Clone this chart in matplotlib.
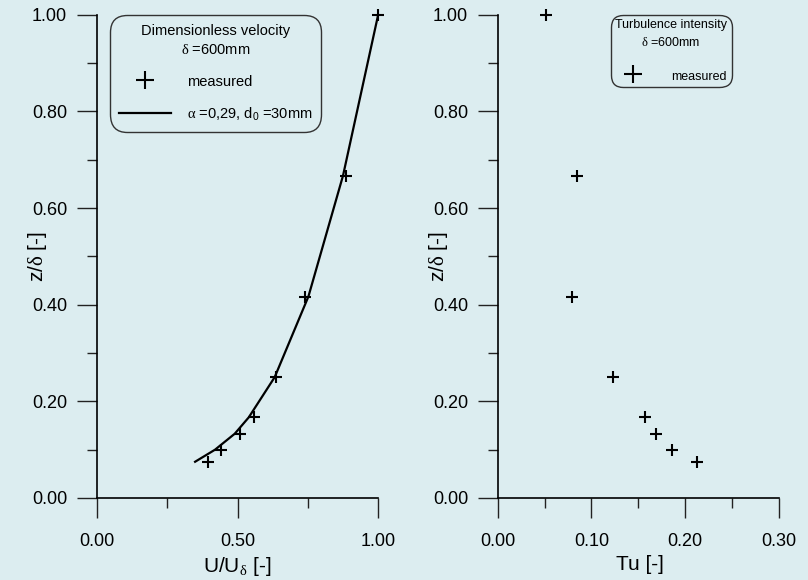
import matplotlib
matplotlib.use("Agg")
import matplotlib.pyplot as plt
from matplotlib.ticker import MultipleLocator, FormatStrFormatter

plt.rcParams['font.family'] = ['Liberation Sans', 'DejaVu Sans']
plt.rcParams['mathtext.fontset'] = 'custom'
plt.rcParams['mathtext.rm'] = 'Liberation Serif'
plt.rcParams['mathtext.it'] = 'Liberation Serif:italic'
plt.rcParams['mathtext.sf'] = 'Liberation Sans'

bg = '#dcedf0'

# measured points (z/delta)
z_meas = [0.075, 0.10, 0.133, 0.167, 0.25, 0.417, 0.667, 1.00]
u_meas = [0.394, 0.441, 0.509, 0.559, 0.637, 0.740, 0.885, 1.00]
tu_meas = [0.213, 0.186, 0.169, 0.157, 0.123, 0.079, 0.085, 0.051]

# power law curve
z_fit = [0.075, 0.10, 0.133, 0.167, 0.25, 0.417, 0.667, 1.00]
u_fit = [0.349, 0.420, 0.490, 0.540, 0.632, 0.752, 0.875, 1.00]

fig = plt.figure(figsize=(8.08, 5.80), dpi=100, facecolor=bg)
ax1 = fig.add_axes([0.120, 0.1414, 0.348, 0.833])
ax2 = fig.add_axes([0.616, 0.1414, 0.348, 0.833])


def style(ax, xmax, xmaj, xmin):
    ax.set_facecolor(bg)
    ax.set_xlim(0, xmax)
    ax.set_ylim(0, 1)
    for s in ['top', 'right']:
        ax.spines[s].set_visible(False)
    for s in ['left', 'bottom']:
        ax.spines[s].set_linewidth(1.2)
        ax.spines[s].set_color('black')
    ax.xaxis.set_major_locator(MultipleLocator(xmaj))
    ax.xaxis.set_minor_locator(MultipleLocator(xmin))
    ax.yaxis.set_major_locator(MultipleLocator(0.2))
    ax.yaxis.set_minor_locator(MultipleLocator(0.1))
    ax.xaxis.set_major_formatter(FormatStrFormatter('%.2f'))
    ax.yaxis.set_major_formatter(FormatStrFormatter('%.2f'))
    ax.tick_params(which='major', direction='out', length=14.4, width=1.0,
                   labelsize=13, color='#222222')
    ax.tick_params(which='minor', direction='out', length=7.2, width=1.0,
                   color='#222222')
    ax.tick_params(axis='x', which='major', pad=10.5)
    ax.tick_params(axis='y', which='major', pad=7)
    ax.set_ylabel(r'z/$\mathrm{\delta}$ [-]', fontsize=15)
    ax.yaxis.set_label_coords(-0.17, 0.5)


style(ax1, 1.0, 0.5, 0.25)
style(ax2, 0.3, 0.1, 0.05)

ax1.plot(u_fit, z_fit, color='black', lw=1.6, clip_on=False,
         label=r'$\mathrm{\alpha}$ =0,29, d$_\mathsf{0}$ =30mm')
ax1.plot(u_meas, z_meas, ls='none', marker='+', ms=9, mew=1.5,
         color='black', clip_on=False, label='measured')
ax1.set_xlabel(r'U/U$_\mathrm{\delta}$ [-]', fontsize=15)
ax1.xaxis.set_label_coords(0.50, -0.118)

h, l = ax1.get_legend_handles_labels()
leg1 = ax1.legend(h[::-1], l[::-1], loc='upper left', bbox_to_anchor=(0.046, 1.0),
                  borderaxespad=0, fontsize=10.5, title_fontsize=10.5,
                  title='Dimensionless velocity\n' + r'$\mathrm{\delta}$ =600mm',
                  handlelength=3.6, handletextpad=1.1, labelspacing=1.15,
                  handleheight=1.3, borderpad=0.6, facecolor=bg,
                  edgecolor='#333333', framealpha=1, fancybox=True,
                  markerscale=1.5)
leg1.get_title().set_multialignment('center')
leg1.get_title().set_linespacing(1.45)
leg1.get_frame().set_boxstyle('round', pad=0, rounding_size=1.2)
leg1.get_frame().set_linewidth(1.0)

ax2.plot(tu_meas, z_meas, ls='none', marker='+', ms=9, mew=1.5,
         color='black', clip_on=False, label='measured')
ax2.set_xlabel('Tu [-]', fontsize=15)
ax2.xaxis.set_label_coords(0.505, -0.118)
leg2 = ax2.legend(loc='upper left', bbox_to_anchor=(0.402, 1.0),
                  borderaxespad=0, fontsize=9, title_fontsize=9,
                  title='Turbulence intensity\n' + r'$\mathrm{\delta}$ =600mm',
                  handlelength=2.8, handletextpad=1.6, borderpad=0.35,
                  labelspacing=1.6, handleheight=1.3,
                  facecolor=bg, edgecolor='#333333', framealpha=1,
                  fancybox=True, markerscale=1.5)
leg2.get_title().set_multialignment('center')
leg2.get_title().set_linespacing(1.45)
leg2.get_frame().set_boxstyle('round', pad=0, rounding_size=1.0)
leg2.get_frame().set_linewidth(1.0)

fig.savefig('out.png', dpi=100, facecolor=bg)
